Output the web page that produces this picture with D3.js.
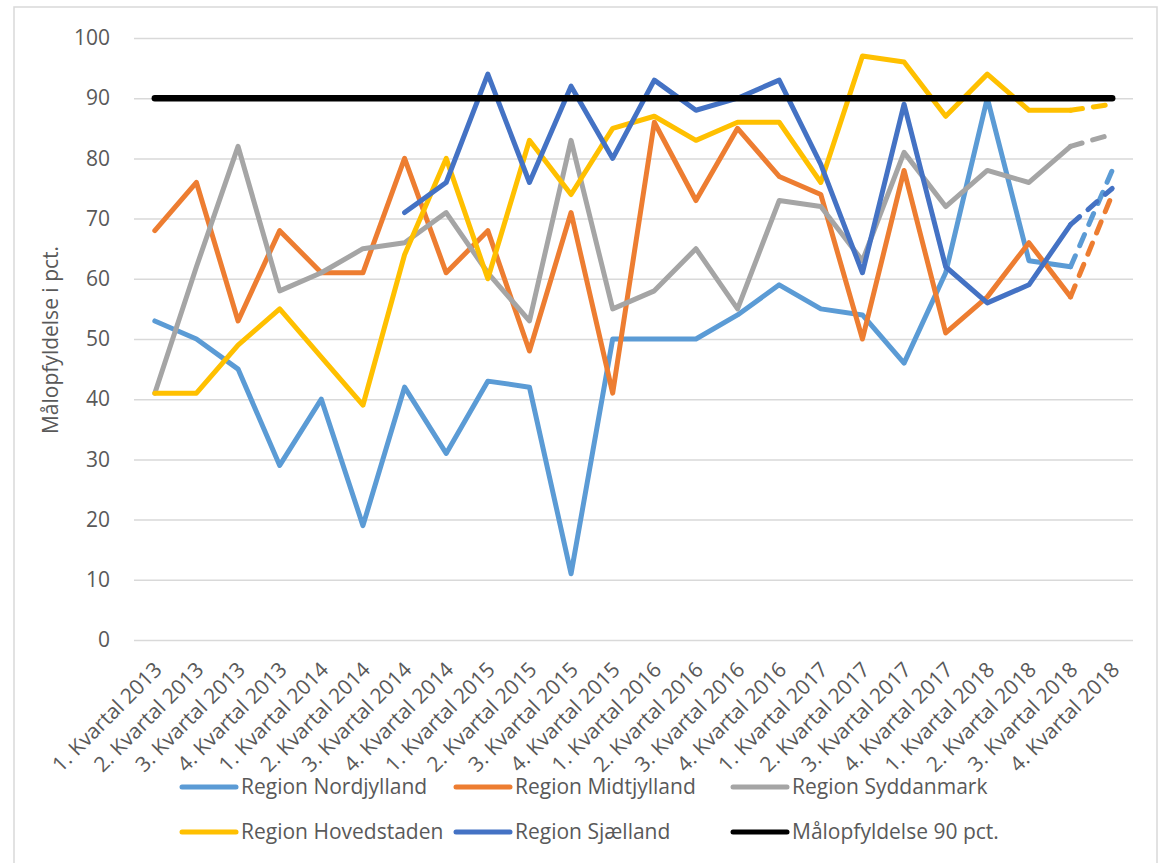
<!DOCTYPE html>
<html>
<head>
<meta charset="utf-8">
<script src="https://cdn.jsdelivr.net/npm/d3@7"></script>
<style>
  body { margin: 0; background: #fff; }
  text { font-family: "Open Sans", sans-serif; fill: #595959; }
</style>
</head>
<body>
<div id="chart"></div>
<script>

// quarters on the x axis
const quarters = [
  "1. Kvartal 2013", "2. Kvartal 2013", "3. Kvartal 2013", "4. Kvartal 2013",
  "1. Kvartal 2014", "2. Kvartal 2014", "3. Kvartal 2014", "4. Kvartal 2014",
  "1. Kvartal 2015", "2. Kvartal 2015", "3. Kvartal 2015", "4. Kvartal 2015",
  "1. Kvartal 2016", "2. Kvartal 2016", "3. Kvartal 2016", "4. Kvartal 2016",
  "1. Kvartal 2017", "2. Kvartal 2017", "3. Kvartal 2017", "4. Kvartal 2017",
  "1. Kvartal 2018", "2. Kvartal 2018", "3. Kvartal 2018", "4. Kvartal 2018"
];

const nordjylland = [53, 50, 45, 29, 40, 19, 42, 31, 43, 42, 11, 50, 50, 50, 54, 59, 55, 54, 46, 61, 90, 63, 62, 78];
const midtjylland = [68, 76, 53, 68, 61, 61, 80, 61, 68, 48, 71, 41, 86, 73, 85, 77, 74, 50, 78, 51, 57, 66, 57, 74];
const syddanmark  = [41, 62, 82, 58, 61, 65, 66, 71, 61, 53, 83, 55, 58, 65, 55, 73, 72, 63, 81, 72, 78, 76, 82, 84];
const hovedstaden = [41, 41, 49, 55, 47, 39, 64, 80, 60, 83, 74, 85, 87, 83, 86, 86, 76, 97, 96, 87, 94, 88, 88, 89];
const sjaelland   = [null, null, null, null, null, null, 71, 76, 94, 76, 92, 80, 93, 88, 90, 93, 79, 61, 89, 62, 56, 59, 69, 75];
const maal        = quarters.map(() => 90);

const yTicks = [0, 10, 20, 30, 40, 50, 60, 70, 80, 90, 100];

const series = [
  { name: "Region Nordjylland", values: nordjylland, color: "#5B9BD5", forecast: true },
  { name: "Region Midtjylland", values: midtjylland, color: "#ED7D31", forecast: true },
  { name: "Region Syddanmark", values: syddanmark, color: "#A5A5A5", forecast: true },
  { name: "Region Hovedstaden", values: hovedstaden, color: "#FFC000", forecast: true },
  { name: "Region Sjælland", values: sjaelland, color: "#4472C4", forecast: true },
  { name: "Målopfyldelse 90 pct.", values: maal, color: "#000000", forecast: false }
];

const svgWidth = 1162;
const svgHeight = 863;

const margin = { top: 38, right: 29, bottom: 223, left: 134 };
const width = svgWidth - margin.left - margin.right;
const height = svgHeight - margin.top - margin.bottom;

const svg = d3.select("#chart")
  .append("svg")
  .attr("width", svgWidth)
  .attr("height", svgHeight);

// chart area border
svg.append("rect")
  .attr("x", 14).attr("y", 7)
  .attr("width", 1143).attr("height", 870)
  .attr("fill", "none")
  .attr("stroke", "#d9d9d9")
  .attr("stroke-width", 1.5);

const chartGroup = svg.append("g")
  .attr("transform", `translate(${margin.left}, ${margin.top})`);

const xScale = d3.scalePoint()
  .domain(quarters)
  .range([0, width])
  .padding(0.5);

const yScale = d3.scaleLinear()
  .domain([0, 100])
  .range([height, 0]);

// gridlines + y labels
const yAxis = chartGroup.append("g")
  .call(d3.axisLeft(yScale).tickValues(yTicks).tickSize(-width).tickPadding(24));
yAxis.select(".domain").remove();
yAxis.selectAll("line").attr("stroke", "#d9d9d9").attr("stroke-width", 1.5);
yAxis.selectAll("text")
  .style("font-size", "21px")
  .attr("fill", "#595959");

// x labels, rotated
const xAxis = chartGroup.append("g")
  .attr("transform", `translate(0, ${height})`)
  .call(d3.axisBottom(xScale).tickSize(0).tickPadding(0));
xAxis.select(".domain").remove();
xAxis.selectAll("text")
  .style("font-size", "21px")
  .attr("fill", "#595959")
  .attr("text-anchor", "end")
  .attr("dy", "0")
  .attr("transform", "translate(8, 31) rotate(-45)");

const line = d3.line()
  .defined(d => d != null)
  .x((d, i) => xScale(quarters[i]))
  .y(d => yScale(d));

const last = quarters.length - 1;

series.forEach(s => {
  const solid = s.forecast ? s.values.map((v, i) => (i < last ? v : null)) : s.values;
  chartGroup.append("path")
    .datum(solid)
    .attr("fill", "none")
    .attr("stroke", s.color)
    .attr("stroke-width", s.forecast ? 5 : 6.5)
    .attr("stroke-linecap", "round")
    .attr("stroke-linejoin", "round")
    .attr("d", line);

  if (s.forecast) {
    const dashed = s.values.map((v, i) => (i >= last - 1 ? v : null));
    chartGroup.append("path")
      .datum(dashed)
      .attr("fill", "none")
      .attr("stroke", s.color)
      .attr("stroke-width", 5)
      .attr("stroke-linecap", "round")
      .attr("stroke-dasharray", "12,11")
      .attr("d", line);
  }
});

// y axis title
svg.append("text")
  .attr("transform", "rotate(-90)")
  .attr("x", -340)
  .attr("y", 58)
  .attr("text-anchor", "middle")
  .style("font-size", "21px")
  .text("Målopfyldelse i pct.");

// legend
const legendCols = [182, 456, 733];
const legendRows = [787, 832];

series.forEach((s, i) => {
  const lx = legendCols[i % 3];
  const ly = legendRows[Math.floor(i / 3)];
  const item = svg.append("g").attr("transform", `translate(${lx}, ${ly})`);
  item.append("line")
    .attr("x1", 0).attr("x2", 54)
    .attr("stroke", s.color)
    .attr("stroke-width", 5)
    .attr("stroke-linecap", "round");
  item.append("text")
    .attr("x", 59)
    .attr("dy", "0.35em")
    .style("font-size", "21px")
    .text(s.name);
});

</script>
</body>
</html>
